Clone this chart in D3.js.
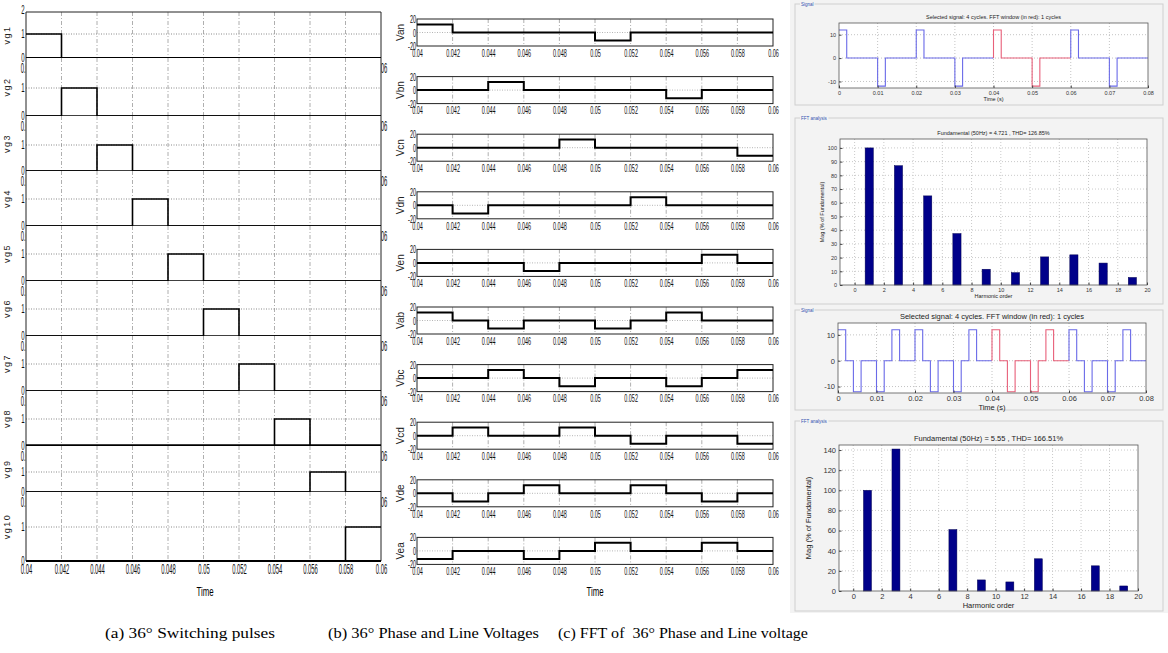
<!DOCTYPE html>
<html>
<head>
<meta charset="utf-8">
<script src="https://cdn.jsdelivr.net/npm/d3@7"></script>
<style>
  body { margin: 0; background: #fff; }
  svg { display: block; }
</style>
</head>
<body>
<div id="chart"></div>
<script>
// ---- data ----
const timeTicks = [0.04, 0.042, 0.044, 0.046, 0.048, 0.05, 0.052, 0.054, 0.056, 0.058, 0.06];

const gateNames = ["vg1", "vg2", "vg3", "vg4", "vg5", "vg6", "vg7", "vg8", "vg9", "vg10"];
const gateLevels = [
    [1, 0, 0, 0, 0, 0, 0, 0, 0, 0],
    [0, 1, 0, 0, 0, 0, 0, 0, 0, 0],
    [0, 0, 1, 0, 0, 0, 0, 0, 0, 0],
    [0, 0, 0, 1, 0, 0, 0, 0, 0, 0],
    [0, 0, 0, 0, 1, 0, 0, 0, 0, 0],
    [0, 0, 0, 0, 0, 1, 0, 0, 0, 0],
    [0, 0, 0, 0, 0, 0, 1, 0, 0, 0],
    [0, 0, 0, 0, 0, 0, 0, 1, 0, 0],
    [0, 0, 0, 0, 0, 0, 0, 0, 1, 0],
    [0, 0, 0, 0, 0, 0, 0, 0, 0, 1]
];

const voltNames = ["Van", "Vbn", "Vcn", "Vdn", "Ven", "Vab", "Vbc", "Vcd", "Vde", "Vea"];
const voltLevels = [
    [12, 0, 0, 0, 0, -12, 0, 0, 0, 0],
    [0, 0, 12, 0, 0, 0, 0, -12, 0, 0],
    [0, 0, 0, 0, 12, 0, 0, 0, 0, -12],
    [0, -12, 0, 0, 0, 0, 12, 0, 0, 0],
    [0, 0, 0, -12, 0, 0, 0, 0, 12, 0],
    [12, 0, -12, 0, 0, -12, 0, 12, 0, 0],
    [0, 0, 12, 0, -12, 0, 0, -12, 0, 12],
    [0, 12, 0, 0, 12, 0, -12, 0, 0, -12],
    [0, -12, 0, 12, 0, 0, 12, 0, -12, 0],
    [-12, 0, 0, -12, 0, 12, 0, 0, 12, 0]
];
const voltTicks = [-20, 0, 20];

const sigTicks = [0, 0.01, 0.02, 0.03, 0.04, 0.05, 0.06, 0.07, 0.08];
const sigYTicks = [-10, 0, 10];
const van4T = [0, 0.002, 0.01, 0.012, 0.02, 0.022, 0.03, 0.032, 0.04, 0.042, 0.05, 0.052, 0.06, 0.062, 0.07, 0.072];
const van4V = [12, 0, -12, 0, 12, 0, -12, 0, 12, 0, -12, 0, 12, 0, -12, 0];
const vab4T = [0, 0.002, 0.004, 0.006, 0.01, 0.012, 0.014, 0.016,
               0.02, 0.022, 0.024, 0.026, 0.03, 0.032, 0.034, 0.036,
               0.04, 0.042, 0.044, 0.046, 0.05, 0.052, 0.054, 0.056,
               0.06, 0.062, 0.064, 0.066, 0.07, 0.072, 0.074, 0.076];
const vab4V = [12, 0, -12, 0, -12, 0, 12, 0,
               12, 0, -12, 0, -12, 0, 12, 0,
               12, 0, -12, 0, -12, 0, 12, 0,
               12, 0, -12, 0, -12, 0, 12, 0];

const harmTicks = [0, 2, 4, 6, 8, 10, 12, 14, 16, 18, 20];
const harmPhase = [1, 3, 5, 7, 9, 11, 13, 15, 17, 19];
const magPhase = [100, 87, 65, 37.5, 11.5, 9, 20.5, 22, 16, 5.5];
const magTicksPhase = [0, 10, 20, 30, 40, 50, 60, 70, 80, 90, 100];
const harmLine = [1, 3, 7, 9, 11, 13, 17, 19];
const magLine = [100, 141, 61, 11, 9, 32, 25, 5];
const magTicksLine = [0, 20, 40, 60, 80, 100, 120, 140];

const captions = ["(a) 36° Switching pulses", "(b) 36° Phase and Line Voltages", "(c) FFT of  36° Phase and Line voltage"];

// ---- helpers ----
const narrow = "'Liberation Sans', Arial, sans-serif";
const fmtTime = d => String(+d.toFixed(3));

function stepPoints(levels) {
    const pts = levels.map((v, j) => [timeTicks[j], v]);
    pts.push([timeTicks[timeTicks.length - 1], levels[levels.length - 1]]);
    return pts;
}

function windowPoints(T, V, a, b) {
    let prev = V[0];
    T.forEach((t, k) => { if (t < a) prev = V[k]; });
    const pts = [[a, prev]];
    T.forEach((t, k) => {
        if (t >= a && t < b) { pts.push([t, V[k]]); prev = V[k]; }
    });
    pts.push([b, prev]);
    return pts;
}

const svg = d3.select("#chart").append("svg")
    .attr("width", 1168)
    .attr("height", 653);

svg.append("rect").attr("width", 1168).attr("height", 653).attr("fill", "#fff");

// ---- panel (a): gate pulses ----
const xA = d3.scaleLinear().domain([0.04, 0.06]).range([26, 381]);
const zeroA = [58, 116, 171, 226, 281, 336, 391, 446, 492, 561];
const oneA = [34, 88, 145, 199, 254, 309, 364, 419, 472, 527];
const baseW = [2.2, 1.4, 1.4, 1.4, 1.4, 1.4, 1.4, 3.5, 1.4, 2.2];

gateNames.forEach((name, i) => {
    const top = i === 0 ? 12 : zeroA[i - 1];
    const bottom = zeroA[i];
    const y = d3.scaleLinear().domain([0, 1]).range([bottom, oneA[i]]);
    const row = svg.append("g");

    row.append("rect")
        .attr("x", xA.range()[0]).attr("y", top)
        .attr("width", xA.range()[1] - xA.range()[0]).attr("height", bottom - top)
        .attr("fill", "#fff");

    row.selectAll("line.grid").data(timeTicks.slice(1, -1)).join("line")
        .attr("class", "grid")
        .attr("x1", d => xA(d)).attr("x2", d => xA(d))
        .attr("y1", top).attr("y2", bottom)
        .attr("stroke", "#9a9a9a").attr("stroke-width", 0.8)
        .attr("stroke-dasharray", "4,2,1,2");

    row.append("line")
        .attr("x1", xA.range()[0]).attr("x2", xA.range()[1])
        .attr("y1", y(1)).attr("y2", y(1))
        .attr("stroke", "#8a8a8a").attr("stroke-dasharray", "1,1.5");

    // x tick labels (mostly hidden by the next row, as in the scope)
    const ax = row.append("g")
        .attr("transform", `translate(0,${bottom})`)
        .call(d3.axisBottom(xA).tickValues(timeTicks).tickFormat(fmtTime).tickSize(0)
            .tickPadding(i === gateNames.length - 1 ? 3 : 5));
    ax.select(".domain").remove();
    ax.selectAll("text")
        .attr("transform", "scale(0.42,1)")
        .style("font-size", "14px").style("font-family", narrow).attr("fill", "#111");

    row.append("path")
        .attr("d", `M${xA.range()[0]},${top}V${bottom}M${xA.range()[1]},${top}V${bottom}`)
        .attr("stroke", "#222").attr("stroke-width", 1).attr("fill", "none");
    row.append("line")
        .attr("x1", xA.range()[0]).attr("x2", xA.range()[1])
        .attr("y1", bottom).attr("y2", bottom)
        .attr("stroke", "#000").attr("stroke-width", baseW[i]);
    if (i === 0) {
        row.append("line")
            .attr("x1", xA.range()[0]).attr("x2", xA.range()[1])
            .attr("y1", top).attr("y2", top)
            .attr("stroke", "#222").attr("stroke-width", 1);
    }

    const line = d3.line().x(d => xA(d[0])).y(d => y(d[1])).curve(d3.curveStepAfter);
    row.append("path")
        .attr("d", line(stepPoints(gateLevels[i])))
        .attr("fill", "none").attr("stroke", "#000").attr("stroke-width", 1.6);

    const yt = i === 0 ? [0, 1, 2] : [0, 1];
    const ay = row.append("g")
        .attr("transform", `translate(${xA.range()[0]},0)`)
        .call(d3.axisLeft(y).tickValues(yt).tickFormat(d => String(d)).tickSize(0).tickPadding(3));
    ay.select(".domain").remove();
    ay.selectAll("text")
        .attr("transform", "scale(0.5,1)")
        .style("font-size", "12px").style("font-family", narrow).attr("fill", "#111");

    row.append("text")
        .attr("transform", `translate(10,${(top + bottom) / 2}) rotate(-90)`)
        .attr("text-anchor", "middle")
        .style("font-family", narrow).style("font-size", "9px")
        .style("letter-spacing", "1.5px")
        .attr("fill", "#222")
        .text(name);
});

svg.append("text")
    .attr("transform", "translate(205,596) scale(0.6,1)")
    .attr("text-anchor", "middle")
    .style("font-family", narrow).style("font-size", "13px")
    .text("Time");

// ---- panel (b): phase and line voltages ----
const xB = d3.scaleLinear().domain([0.04, 0.06]).range([417, 773]);
const boxH = 27;

voltNames.forEach((name, i) => {
    const top = 19 + 57.6 * i;
    const y = d3.scaleLinear().domain([-20, 20]).range([top + boxH, top]);
    const row = svg.append("g");

    row.selectAll("line.grid").data(timeTicks.slice(1, -1)).join("line")
        .attr("class", "grid")
        .attr("x1", d => xB(d)).attr("x2", d => xB(d))
        .attr("y1", top).attr("y2", top + boxH)
        .attr("stroke", "#9a9a9a").attr("stroke-width", 0.8)
        .attr("stroke-dasharray", "4,2,1,2");
    row.append("line")
        .attr("x1", xB.range()[0]).attr("x2", xB.range()[1])
        .attr("y1", y(0)).attr("y2", y(0))
        .attr("stroke", "#b5b5b5").attr("stroke-dasharray", "1,1.5");

    row.append("rect")
        .attr("x", xB.range()[0]).attr("y", top)
        .attr("width", xB.range()[1] - xB.range()[0]).attr("height", boxH)
        .attr("fill", "none").attr("stroke", "#222").attr("stroke-width", 1);

    const line = d3.line().x(d => xB(d[0])).y(d => y(d[1])).curve(d3.curveStepAfter);
    row.append("path")
        .attr("d", line(stepPoints(voltLevels[i])))
        .attr("fill", "none").attr("stroke", "#000").attr("stroke-width", 2);

    const ax = row.append("g")
        .attr("transform", `translate(0,${top + boxH})`)
        .call(d3.axisBottom(xB).tickValues(timeTicks).tickFormat(fmtTime).tickSize(0).tickPadding(3));
    ax.select(".domain").remove();
    ax.selectAll("text")
        .attr("transform", "scale(0.5,1)")
        .style("font-size", "11px").style("font-family", narrow).attr("fill", "#111");

    const ay = row.append("g")
        .attr("transform", `translate(${xB.range()[0]},0)`)
        .call(d3.axisLeft(y).tickValues(voltTicks).tickFormat(d => String(d)).tickSize(0).tickPadding(2));
    ay.select(".domain").remove();
    ay.selectAll("text")
        .attr("transform", "scale(0.5,1)")
        .style("font-size", "11px").style("font-family", narrow).attr("fill", "#111");

    row.append("text")
        .attr("transform", `translate(404,${top + boxH / 2}) rotate(-90)`)
        .attr("text-anchor", "middle")
        .style("font-family", narrow).style("font-size", "10px")
        .attr("fill", "#222")
        .text(name);
});

svg.append("text")
    .attr("transform", "translate(595,596) scale(0.6,1)")
    .attr("text-anchor", "middle")
    .style("font-family", narrow).style("font-size", "13px")
    .text("Time");

// ---- panel (c): powergui FFT windows ----
svg.append("rect")
    .attr("x", 790).attr("y", 0).attr("width", 378).attr("height", 613)
    .attr("fill", "#f3f3f3");

const frames = [
    {y: 4, h: 101, label: "Signal"},
    {y: 118, h: 186, label: "FFT analysis"},
    {y: 310, h: 100, label: "Signal"},
    {y: 421, h: 190, label: "FFT analysis"}
];
frames.forEach(f => {
    svg.append("rect")
        .attr("x", 795).attr("y", f.y).attr("width", 368).attr("height", f.h)
        .attr("fill", "none").attr("stroke", "#cfcfcf");
    const t = svg.append("text")
        .attr("x", 801).attr("y", f.y + 2)
        .style("font-family", narrow).style("font-size", "4.5px")
        .attr("fill", "#3050b0")
        .text(f.label);
    const bb = t.node().getBBox();
    svg.insert("rect", () => t.node())
        .attr("x", bb.x - 1).attr("y", bb.y).attr("width", bb.width + 2).attr("height", bb.height)
        .attr("fill", "#f3f3f3");
});

function axisText(sel, fs) {
    sel.select(".domain").remove();
    sel.selectAll("line").attr("stroke", "#444");
    sel.selectAll("text")
        .style("font-size", fs + "px").style("font-family", narrow).attr("fill", "#333");
}

function signalPlot(c) {
    const x = d3.scaleLinear().domain([0, 0.08]).range([c.x0, c.x1]);
    const y = d3.scaleLinear().domain(c.yDom).range([c.y1, c.y0]);
    const g = svg.append("g");
    g.append("rect")
        .attr("x", c.x0).attr("y", c.y0).attr("width", c.x1 - c.x0).attr("height", c.y1 - c.y0)
        .attr("fill", "#fff");
    g.selectAll("line.gx").data(sigTicks.slice(1, -1)).join("line")
        .attr("x1", d => x(d)).attr("x2", d => x(d)).attr("y1", c.y0).attr("y2", c.y1)
        .attr("stroke", "#c4c4c4").attr("stroke-dasharray", "1,2");
    g.selectAll("line.gy").data(sigYTicks).join("line")
        .attr("x1", c.x0).attr("x2", c.x1).attr("y1", d => y(d)).attr("y2", d => y(d))
        .attr("stroke", "#c4c4c4").attr("stroke-dasharray", "1,2");

    const line = d3.line().x(d => x(d[0])).y(d => y(d[1])).curve(d3.curveStepAfter);
    [[0, 0.04, "#6a6ae8"], [0.04, 0.06, "#e8607a"], [0.06, 0.08, "#6a6ae8"]].forEach(w => {
        g.append("path")
            .attr("d", line(windowPoints(c.T, c.V, w[0], w[1])))
            .attr("fill", "none").attr("stroke", w[2]).attr("stroke-width", 1.1);
    });

    g.append("rect")
        .attr("x", c.x0).attr("y", c.y0).attr("width", c.x1 - c.x0).attr("height", c.y1 - c.y0)
        .attr("fill", "none").attr("stroke", "#555").attr("stroke-width", 0.8);

    const ax = g.append("g").attr("transform", `translate(0,${c.y1})`)
        .call(d3.axisBottom(x).tickValues(sigTicks).tickFormat(d => String(+d.toFixed(2)))
            .tickSizeInner(-2.5).tickSizeOuter(0).tickPadding(3));
    axisText(ax, c.fs);
    const ay = g.append("g").attr("transform", `translate(${c.x0},0)`)
        .call(d3.axisLeft(y).tickValues(sigYTicks).tickFormat(d => String(d))
            .tickSizeInner(-2.5).tickSizeOuter(0).tickPadding(3));
    axisText(ay, c.fs);

    g.append("text")
        .attr("x", (c.x0 + c.x1) / 2).attr("y", c.y0 - 4)
        .attr("text-anchor", "middle")
        .style("font-family", narrow).style("font-size", c.fs + "px").attr("fill", "#222")
        .text("Selected signal: 4 cycles. FFT window (in red): 1 cycles");
    g.append("text")
        .attr("x", (c.x0 + c.x1) / 2).attr("y", c.y1 + c.fs * 2.3)
        .attr("text-anchor", "middle")
        .style("font-family", narrow).style("font-size", c.fs + "px").attr("fill", "#222")
        .text("Time (s)");
}

function fftPlot(c) {
    const x = d3.scaleLinear().domain([-1, 20]).range([c.x0, c.x1]);
    const y = d3.scaleLinear().domain(c.yDom).range([c.y1, c.y0]);
    const g = svg.append("g");
    g.append("rect")
        .attr("x", c.x0).attr("y", c.y0).attr("width", c.x1 - c.x0).attr("height", c.y1 - c.y0)
        .attr("fill", "#fff");
    g.selectAll("line.gx").data(harmTicks.slice(0, -1)).join("line")
        .attr("x1", d => x(d)).attr("x2", d => x(d)).attr("y1", c.y0).attr("y2", c.y1)
        .attr("stroke", "#cacaca").attr("stroke-dasharray", "1,2");
    g.selectAll("line.gy").data(c.yTicks.slice(1)).join("line")
        .attr("x1", c.x0).attr("x2", c.x1).attr("y1", d => y(d)).attr("y2", d => y(d))
        .attr("stroke", "#cacaca").attr("stroke-dasharray", "1,2");

    const bw = x(0.56) - x(0);
    g.selectAll("rect.bar").data(c.H.map((h, k) => ({h: h, m: c.M[k]}))).join("rect")
        .attr("class", "bar")
        .attr("x", d => x(d.h) - bw / 2)
        .attr("y", d => y(d.m))
        .attr("width", bw)
        .attr("height", d => y(0) - y(d.m))
        .attr("fill", "#00008a").attr("stroke", "#000050").attr("stroke-width", 0.5);

    g.append("rect")
        .attr("x", c.x0).attr("y", c.y0).attr("width", c.x1 - c.x0).attr("height", c.y1 - c.y0)
        .attr("fill", "none").attr("stroke", "#555").attr("stroke-width", 0.8);

    const ax = g.append("g").attr("transform", `translate(0,${c.y1})`)
        .call(d3.axisBottom(x).tickValues(harmTicks).tickFormat(d => String(d))
            .tickSizeInner(-2.5).tickSizeOuter(0).tickPadding(3));
    axisText(ax, c.fs);
    const ay = g.append("g").attr("transform", `translate(${c.x0},0)`)
        .call(d3.axisLeft(y).tickValues(c.yTicks).tickFormat(d => String(d))
            .tickSizeInner(-2.5).tickSizeOuter(0).tickPadding(3));
    axisText(ay, c.fs);

    g.append("text")
        .attr("x", (c.x0 + c.x1) / 2).attr("y", c.y0 - 4)
        .attr("text-anchor", "middle")
        .style("font-family", narrow).style("font-size", c.fs + "px").attr("fill", "#222")
        .text(c.title);
    g.append("text")
        .attr("x", (c.x0 + c.x1) / 2).attr("y", c.y1 + c.fs * 2.3)
        .attr("text-anchor", "middle")
        .style("font-family", narrow).style("font-size", c.fs + "px").attr("fill", "#222")
        .text("Harmonic order");
    g.append("text")
        .attr("transform", `translate(${c.ylx},${(c.y0 + c.y1) / 2}) rotate(-90)`)
        .attr("text-anchor", "middle")
        .style("font-family", narrow).style("font-size", c.fs + "px").attr("fill", "#222")
        .text("Mag (% of Fundamental)");
}

signalPlot({x0: 839, x1: 1148, y0: 23, y1: 88, yDom: [-12.8, 15], T: van4T, V: van4V, fs: 5.5});
fftPlot({x0: 840, x1: 1147, y0: 139, y1: 285, yDom: [0, 106.5], yTicks: magTicksPhase,
    H: harmPhase, M: magPhase, fs: 5.5, ylx: 824,
    title: "Fundamental (50Hz) = 4.721 , THD= 126.85%"});
signalPlot({x0: 838, x1: 1146, y0: 323, y1: 393, yDom: [-12.5, 14.6], T: vab4T, V: vab4V, fs: 7.5});
fftPlot({x0: 839, x1: 1138, y0: 445, y1: 591, yDom: [0, 145], yTicks: magTicksLine,
    H: harmLine, M: magLine, fs: 7.5, ylx: 811,
    title: "Fundamental (50Hz) = 5.55 , THD= 166.51%"});

// ---- captions ----
const capX = [105, 328, 558];
const capW = [170, 211, 250];
captions.forEach((c, i) => {
    svg.append("text")
        .attr("x", capX[i]).attr("y", 638)
        .attr("textLength", capW[i]).attr("lengthAdjust", "spacingAndGlyphs")
        .style("font-family", "'Liberation Serif', 'Times New Roman', serif")
        .style("font-size", "14px")
        .style("white-space", "pre")
        .attr("fill", "#000")
        .text(c);
});
</script>
</body>
</html>
